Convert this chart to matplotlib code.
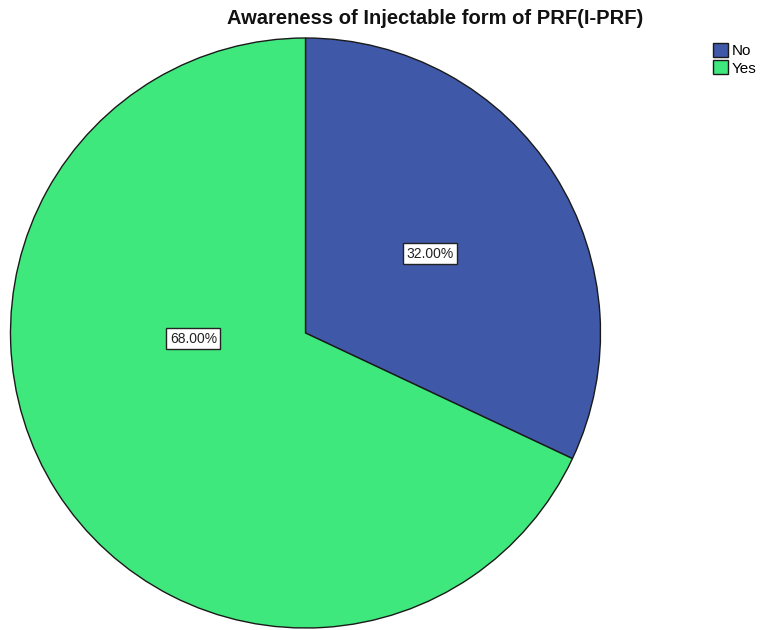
import matplotlib
matplotlib.use("Agg")
import matplotlib.pyplot as plt

categories = ["No", "Yes"]
values = [32.0, 68.0]
colors = ["#3f58a8", "#3fe87c"]
title = "Awareness of Injectable form of PRF(I-PRF)"

plt.rcParams['font.family'] = ['Liberation Sans', 'DejaVu Sans']

fig = plt.figure(figsize=(7.6, 6.3), dpi=100)
ax = fig.add_axes([10.5/760, 2/630, 590/760, 590/630])
wedges, texts, autotexts = ax.pie(
    values, colors=colors, startangle=90, counterclock=False, radius=1.0,
    wedgeprops=dict(edgecolor="#1a1a1a", linewidth=1.0),
    autopct=lambda p: f"{p:.2f}%", pctdistance=0.5,
    textprops=dict(fontsize=10, color="#222222"))
for t in autotexts:
    t.set_bbox(dict(boxstyle="square,pad=0.25", facecolor="white", edgecolor="#222222", linewidth=1.0))
# SPSS-style placement of the larger label
autotexts[1].set_position((-0.38, -0.02))
ax.set_xlim(-1, 1)
ax.set_ylim(-1, 1)
ax.set_aspect("equal")
ax.axis("off")

fig.text(435/760, 1 - 18/630, title, ha="center", va="center", fontsize=14.5, fontweight="bold", color="#111111")

fig.legend(wedges, categories, loc="upper left", bbox_to_anchor=(707/760, 1 - 37/630),
           frameon=False, fontsize=11, handlelength=1.0, handleheight=1.0,
           handletextpad=0.2, labelspacing=0.15, borderaxespad=0)

fig.savefig("out.png", dpi=100)
